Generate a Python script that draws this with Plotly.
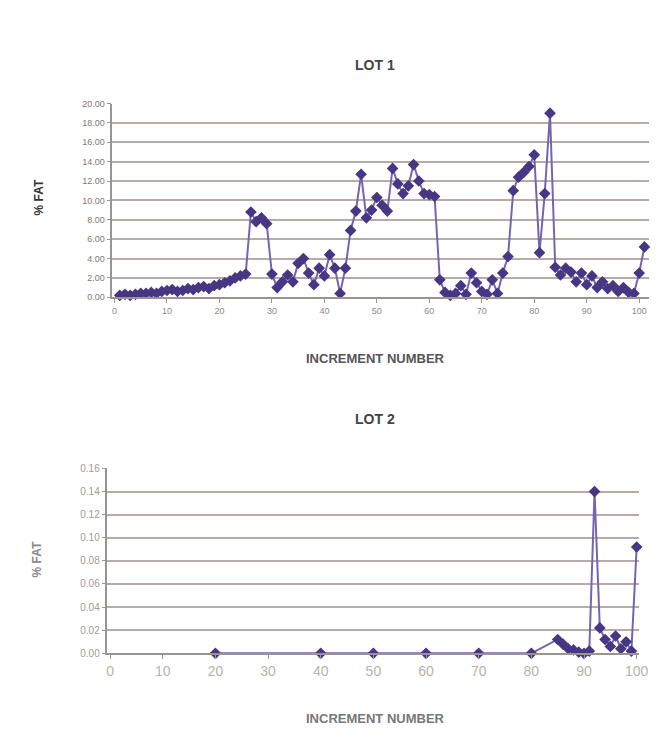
import plotly.graph_objects as go

# ---- LOT 1 data ----
lot1_increment = list(range(1, 102))
lot1_values = [
    0.2, 0.3, 0.2, 0.3, 0.4, 0.4, 0.5, 0.4, 0.6, 0.7,
    0.8, 0.6, 0.7, 0.9, 0.8, 1.0, 1.1, 0.9, 1.2, 1.3,
    1.5, 1.7, 2.0, 2.2, 2.4, 8.8, 7.8, 8.2, 7.6, 2.4,
    1.0, 1.6, 2.3, 1.6, 3.5, 4.0, 2.5, 1.3, 3.0, 2.2,
    4.4, 3.0, 0.4, 3.0, 6.9, 8.9, 12.7, 8.2, 9.0, 10.3,
    9.5, 8.9, 13.3, 11.7, 10.7, 11.5, 13.7, 12.0, 10.7, 10.6,
    10.4, 1.8, 0.5, 0.2, 0.4, 1.2, 0.3, 2.5, 1.5, 0.6,
    0.3, 1.8, 0.4, 2.5, 4.2, 11.0, 12.4, 12.9, 13.5, 14.7,
    4.6, 10.7, 19.0, 3.1, 2.3, 3.0, 2.6, 1.6, 2.5, 1.3,
    2.2, 1.0, 1.6, 0.9, 1.2, 0.6, 1.0, 0.5, 0.4, 2.5,
    5.2,
]

# ---- LOT 2 data ----
lot2_increment = [20, 40, 50, 60, 70, 80, 85, 86, 87, 88, 89, 90, 91, 92,
                  93, 94, 95, 96, 97, 98, 99, 100]
lot2_values = [0.0, 0.0, 0.0, 0.0, 0.0, 0.0, 0.012, 0.008, 0.004, 0.003,
               0.001, 0.0, 0.002, 0.140, 0.022, 0.012, 0.006, 0.015, 0.004,
               0.010, 0.002, 0.092]

x_ticks = list(range(0, 101, 10))
lot1_y_ticks = [0, 2, 4, 6, 8, 10, 12, 14, 16, 18, 20]
lot2_y_ticks = [0, 0.02, 0.04, 0.06, 0.08, 0.10, 0.12, 0.14, 0.16]

MARKER = "#463785"
LINE = "#7565b0"
GRID = "#b3aca8"
FONT = "Liberation Sans"

fig = go.Figure()
fig.add_trace(go.Scatter(
    x=lot1_increment, y=lot1_values, mode="lines+markers",
    line=dict(color=LINE, width=2),
    marker=dict(symbol="diamond", size=9, color=MARKER),
    cliponaxis=False, xaxis="x", yaxis="y", showlegend=False))
fig.add_trace(go.Scatter(
    x=lot2_increment, y=lot2_values, mode="lines+markers",
    line=dict(color=LINE, width=2),
    marker=dict(symbol="diamond", size=9, color=MARKER),
    cliponaxis=False, xaxis="x2", yaxis="y2", showlegend=False))

W, H = 660, 732
def px_x(p):
    return p / W
def px_y(p):
    return 1 - p / H

axis_common = dict(showline=True, linecolor="#9a9490", linewidth=1.5,
                   ticks="outside", ticklen=4, tickcolor="#9a9490",
                   zeroline=False)

fig.update_layout(
    width=W, height=H,
    margin=dict(l=0, r=0, t=0, b=0),
    paper_bgcolor="white", plot_bgcolor="white",
    font=dict(family=FONT, color="#8a8482"),
    xaxis=dict(domain=[px_x(105), px_x(650)], anchor="y",
               range=[-0.4, 101.9], tickvals=x_ticks,
               showgrid=False, tickfont=dict(size=9, color="#8f8985"),
               **axis_common),
    yaxis=dict(domain=[px_y(288), px_y(91)], anchor="x",
               range=[0, 20], tickvals=lot1_y_ticks, tickformat=".2f",
               showgrid=True, gridcolor=GRID, gridwidth=2,
               tickfont=dict(size=9, color="#7f7975"),
               **axis_common),
    xaxis2=dict(domain=[px_x(100), px_x(640)], anchor="y2",
                range=[-0.5, 100.5], tickvals=x_ticks,
                showgrid=False, tickfont=dict(size=14, color="#b8b2ae"),
                **axis_common),
    yaxis2=dict(domain=[px_y(650), px_y(462)], anchor="x2",
                range=[0, 0.16], tickvals=lot2_y_ticks, tickformat=".2f",
                showgrid=True, gridcolor=GRID, gridwidth=2,
                tickfont=dict(size=10, color="#a09a96"),
                **axis_common),
)

annotations = [
    dict(text="<b>LOT 1</b>", x=px_x(372), y=px_y(52), font=dict(size=14, color="#444")),
    dict(text="<b>LOT 2</b>", x=px_x(372), y=px_y(412), font=dict(size=14, color="#444")),
    dict(text="<b>INCREMENT NUMBER</b>", x=px_x(372), y=px_y(350),
         font=dict(size=13, color="#555")),
    dict(text="<b>INCREMENT NUMBER</b>", x=px_x(372), y=px_y(716),
         font=dict(size=13, color="#777")),
    dict(text="<b>% FAT</b>", x=px_x(30), y=px_y(187), textangle=-90,
         font=dict(size=12, color="#333")),
    dict(text="<b>% FAT</b>", x=px_x(28), y=px_y(555), textangle=-90,
         font=dict(size=12, color="#888")),
]
for a in annotations:
    a.update(xref="paper", yref="paper", showarrow=False,
             xanchor="center", yanchor="middle")
fig.update_layout(annotations=annotations)

fig.write_html("out.html")
